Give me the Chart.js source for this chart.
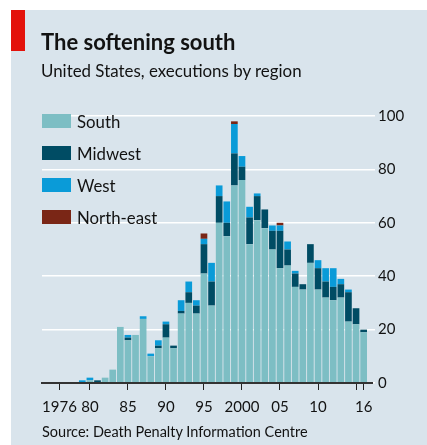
<!DOCTYPE html>
<html>
<head>
<meta charset="utf-8">
<script src="https://cdn.jsdelivr.net/npm/chart.js@4.4.1/dist/chart.umd.min.js"></script>
<style>
  html, body { margin: 0; padding: 0; background: #fff; }
  body { width: 427px; height: 445px; position: relative; overflow: hidden; font-family: Lato, sans-serif; color: #121212; }
  #panel { position: absolute; left: 11px; top: 10px; right: 0; bottom: 0; background: #d9e4ec; }
  #redbar { position: absolute; left: 11px; top: 10px; width: 14px; height: 41px; background: #e3120b; }
  #title { position: absolute; left: 41px; top: 30px; font-size: 22px; font-weight: bold; line-height: 24px; }
  #subtitle { position: absolute; left: 41px; top: 61px; font-size: 16.9px; line-height: 20px; }
  #source { position: absolute; left: 42px; top: 423px; font-size: 14.5px; line-height: 18px; }
  #legend { position: absolute; left: 42px; top: 105px; }
  .item { height: 32px; display: flex; align-items: center; font-size: 16.8px; }
  .item span.sw { width: 29px; height: 14px; margin-right: 6px; display: inline-block; }
  canvas { position: absolute; left: 0; top: 0; }
</style>
</head>
<body>
<div id="panel"></div>
<div id="redbar"></div>
<canvas id="chart" width="427" height="445"></canvas>
<div id="title">The softening south</div>
<div id="subtitle">United States, executions by region</div>
<div id="legend"></div>
<div id="source">Source: Death Penalty Information Centre</div>
<script>
// executions per year, by region
const years = [1976, 1977, 1978, 1979, 1980, 1981, 1982, 1983, 1984, 1985,
  1986, 1987, 1988, 1989, 1990, 1991, 1992, 1993, 1994, 1995,
  1996, 1997, 1998, 1999, 2000, 2001, 2002, 2003, 2004, 2005,
  2006, 2007, 2008, 2009, 2010, 2011, 2012, 2013, 2014, 2015, 2016];
const south = [0, 0, 0, 0, 1, 0, 2, 5, 21, 16,
  18, 24, 10, 13, 17, 13, 26, 30, 26, 41,
  29, 60, 55, 74, 76, 52, 61, 58, 50, 43,
  44, 36, 35, 45, 35, 32, 31, 32, 23, 22, 19];
const midwest = [0, 0, 0, 0, 0, 1, 0, 0, 0, 1,
  0, 0, 0, 1, 5, 1, 1, 4, 3, 11,
  9, 10, 5, 12, 5, 10, 9, 7, 7, 14,
  6, 5, 2, 7, 8, 6, 5, 5, 11, 6, 1];
const west = [0, 0, 0, 1, 1, 0, 0, 0, 0, 1,
  0, 1, 1, 2, 1, 0, 4, 4, 2, 2,
  7, 4, 8, 11, 4, 4, 1, 0, 2, 2,
  3, 1, 0, 0, 3, 5, 7, 2, 1, 0, 0];
const northEast = [0, 0, 0, 0, 0, 0, 0, 0, 0, 0,
  0, 0, 0, 0, 0, 0, 0, 0, 0, 2,
  0, 0, 0, 1, 0, 0, 0, 0, 0, 1,
  0, 0, 0, 0, 0, 0, 0, 0, 0, 0, 0];

const regionNames = ['South', 'Midwest', 'West', 'North-east'];
const regionColors = ['#7dbec4', '#004c64', '#0a9bd8', '#7a2616'];

const tickYears = [1976, 1980, 1985, 1990, 1995, 2000, 2005, 2010, 2015, 2016];
const tickLabels = ['1976', '80', '85', '90', '95', '2000', '05', '10', '', '16'];
const yTicks = [0, 20, 40, 60, 80, 100];

const series = [south, midwest, west, northEast];
const font = { family: 'Lato, sans-serif', size: 15 };

new Chart(document.getElementById('chart'), {
  type: 'bar',
  data: {
    labels: years,
    datasets: series.map((d, i) => ({
      label: regionNames[i],
      data: d,
      backgroundColor: regionColors[i],
      borderWidth: 0,
      barPercentage: 0.88,
      categoryPercentage: 1
    }))
  },
  options: {
    responsive: false,
    animation: false,
    layout: { padding: { left: 42, top: 116, right: 0, bottom: 0 } },
    plugins: { legend: { display: false }, tooltip: { enabled: false } },
    scales: {
      x: {
        type: 'linear',
        stacked: true,
        min: 1973.7,
        max: 2017.1,
        offset: false,
        afterBuildTicks: s => { s.ticks = tickYears.map(v => ({ value: v })); },
        afterFit: s => { s.height = 62; },
        ticks: {
          autoSkip: false, maxRotation: 0, padding: 8, color: '#121212', font,
          callback: v => tickLabels[tickYears.indexOf(v)]
        },
        grid: { drawOnChartArea: false, offset: false, tickLength: 7, tickColor: '#222', tickWidth: 1 },
        border: { color: '#333', width: 2, z: 1 }
      },
      y: {
        position: 'right',
        stacked: true,
        min: 0,
        max: 100,
        afterBuildTicks: s => { s.ticks = yTicks.map(v => ({ value: v })); },
        afterFit: s => { s.width = 55; },
        ticks: { padding: 3, color: '#121212', font },
        grid: { color: '#ffffff', lineWidth: 1.5, tickLength: 3 },
        border: { display: false }
      }
    }
  }
});

// legend, top left inside the plot
const legend = document.getElementById('legend');
regionNames.forEach((name, i) => {
  const row = document.createElement('div');
  row.className = 'item';
  row.innerHTML = '<span class="sw" style="background:' + regionColors[i] + '"></span>' + name;
  legend.appendChild(row);
});
</script>
</body>
</html>
